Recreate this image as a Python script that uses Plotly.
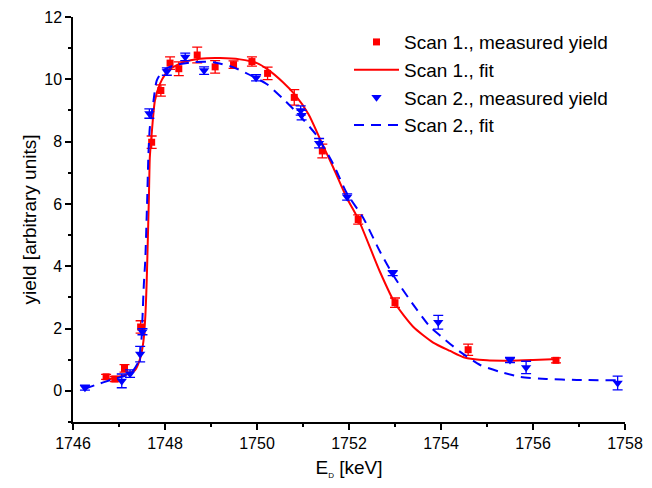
import plotly.graph_objects as go

# Scan 1 measured
s1_x = [1746.72, 1746.91, 1747.12, 1747.47, 1747.71, 1747.91, 1748.11, 1748.30, 1748.70, 1749.09,
        1749.49, 1749.89, 1750.23, 1750.81, 1751.42, 1752.20, 1753.00, 1754.59, 1756.50]
s1_y = [0.45, 0.38, 0.72, 2.05, 7.98, 9.64, 10.52, 10.34, 10.78, 10.40,
        10.47, 10.57, 10.19, 9.42, 7.70, 5.50, 2.83, 1.32, 0.98]
s1_err = [0.08, 0.08, 0.12, 0.2, 0.2, 0.18, 0.2, 0.22, 0.25, 0.2,
          0.12, 0.15, 0.2, 0.25, 0.22, 0.15, 0.15, 0.18, 0.08]

# Scan 2 measured
s2_x = [1746.26, 1747.06, 1747.24, 1747.46, 1747.51, 1747.66, 1748.04, 1748.44, 1748.85, 1749.98,
        1750.95, 1750.97, 1751.35, 1751.96, 1752.95, 1753.94, 1755.50, 1755.85, 1757.84]
s2_y = [0.10, 0.32, 0.55, 1.18, 1.90, 8.90, 10.25, 10.72, 10.28, 10.05,
        9.00, 8.85, 7.95, 6.22, 3.78, 2.20, 0.99, 0.75, 0.25]
s2_err = [0.08, 0.22, 0.12, 0.25, 0.1, 0.15, 0.12, 0.12, 0.12, 0.1,
          0.15, 0.15, 0.15, 0.1, 0.08, 0.22, 0.08, 0.2, 0.22]

# Scan 1 fit
f1_x = [1746.75, 1747.0, 1747.17, 1747.35, 1747.46, 1747.53, 1747.57, 1747.60, 1747.62, 1747.65,
        1747.67, 1747.71, 1747.78, 1747.89, 1748.0, 1748.11, 1748.4, 1748.76, 1749.2, 1749.63,
        1750.0, 1750.23, 1750.57, 1750.81, 1751.12, 1751.42, 1751.66, 1751.95, 1752.2, 1752.67,
        1753.0, 1753.4, 1753.83, 1754.2, 1754.49, 1755.0, 1755.5, 1756.0, 1756.55]
f1_y = [0.36, 0.45, 0.53, 0.67, 1.04, 1.58, 2.33, 3.41, 4.48, 6.2,
        7.49, 8.24, 9.31, 9.85, 10.15, 10.33, 10.55, 10.66, 10.68, 10.64,
        10.52, 10.32, 9.9, 9.53, 8.88, 7.92, 7.16, 6.2, 5.52, 3.83,
        2.81, 2.05, 1.55, 1.28, 1.08, 0.98, 0.97, 0.99, 1.02]

# Scan 2 fit
f2_x = [1746.26, 1746.37, 1746.51, 1746.8, 1747.06, 1747.24, 1747.42, 1747.49, 1747.51, 1747.54,
        1747.57, 1747.61, 1747.64, 1747.67, 1747.75, 1747.82, 1747.96, 1748.18, 1748.62, 1749.05,
        1749.48, 1749.9, 1750.21, 1750.57, 1750.93, 1751.3, 1751.66, 1751.95, 1752.31, 1752.67,
        1753.0, 1753.4, 1753.76, 1754.0, 1754.41, 1754.85, 1755.28, 1755.72, 1756.29, 1756.95, 1757.82]
f2_y = [0.05, 0.13, 0.2, 0.34, 0.45, 0.53, 0.93, 1.69, 2.33, 3.41,
        4.16, 6.0, 7.6, 8.45, 9.31, 9.96, 10.28, 10.44, 10.55, 10.55,
        10.39, 10.1, 9.85, 9.37, 8.83, 8.19, 7.27, 6.35, 5.55, 4.48,
        3.62, 2.76, 2.06, 1.75, 1.26, 0.83, 0.61, 0.45, 0.38, 0.35, 0.34]

RED = "#FF0000"
BLUE = "#0000FF"
FONT = "Liberation Sans, Arial, sans-serif"

fig = go.Figure()
fig.add_trace(go.Scatter(
    x=s1_x, y=s1_y, mode="markers", name="Scan 1., measured yield",
    marker=dict(symbol="square", size=7, color=RED),
    error_y=dict(type="data", array=s1_err, color=RED, thickness=1.3, width=5),
))
fig.add_trace(go.Scatter(
    x=f1_x, y=f1_y, mode="lines", name="Scan 1., fit",
    line=dict(color=RED, width=2, shape="spline", smoothing=0.6),
))
fig.add_trace(go.Scatter(
    x=s2_x, y=s2_y, mode="markers", name="Scan 2., measured yield",
    marker=dict(symbol="triangle-down", size=9, color=BLUE),
    error_y=dict(type="data", array=s2_err, color=BLUE, thickness=1.3, width=5),
))
fig.add_trace(go.Scatter(
    x=f2_x, y=f2_y, mode="lines", name="Scan 2., fit",
    line=dict(color=BLUE, width=2, dash="10px,7px", shape="spline", smoothing=0.6),
))

fig.update_layout(
    width=644, height=480,
    margin=dict(l=65, r=27, t=9, b=66),
    paper_bgcolor="white", plot_bgcolor="white",
    font=dict(family=FONT, size=16, color="black"),
    showlegend=True,
    legend=dict(x=0.5, y=0.985, xanchor="left", yanchor="top",
                bgcolor="rgba(0,0,0,0)", font=dict(size=19, family=FONT),
                itemwidth=45, tracegroupgap=0),
    xaxis=dict(range=[1746, 1758], dtick=2, tick0=1746, showgrid=False, zeroline=False,
               automargin=False,
               showline=True, linecolor="black", linewidth=1.5,
               ticks="outside", ticklen=6, tickwidth=1.5, tickcolor="black",
               minor=dict(dtick=1, ticks="outside", ticklen=3, tickwidth=1.5, tickcolor="black"),
               title=dict(text="E<sub><span style='font-size:8px'>D</span></sub> [keV]",
                          font=dict(size=19), standoff=10)),
    yaxis=dict(range=[-1, 12], dtick=2, tick0=0, showgrid=False, zeroline=False,
               automargin=False,
               showline=True, linecolor="black", linewidth=1.5,
               ticks="outside", ticklen=6, tickwidth=1.5, tickcolor="black",
               minor=dict(dtick=1, ticks="outside", ticklen=3, tickwidth=1.5, tickcolor="black"),
               title=dict(text="yield [arbitrary units]", font=dict(size=19), standoff=3)),
)

fig.write_html("out.html")
